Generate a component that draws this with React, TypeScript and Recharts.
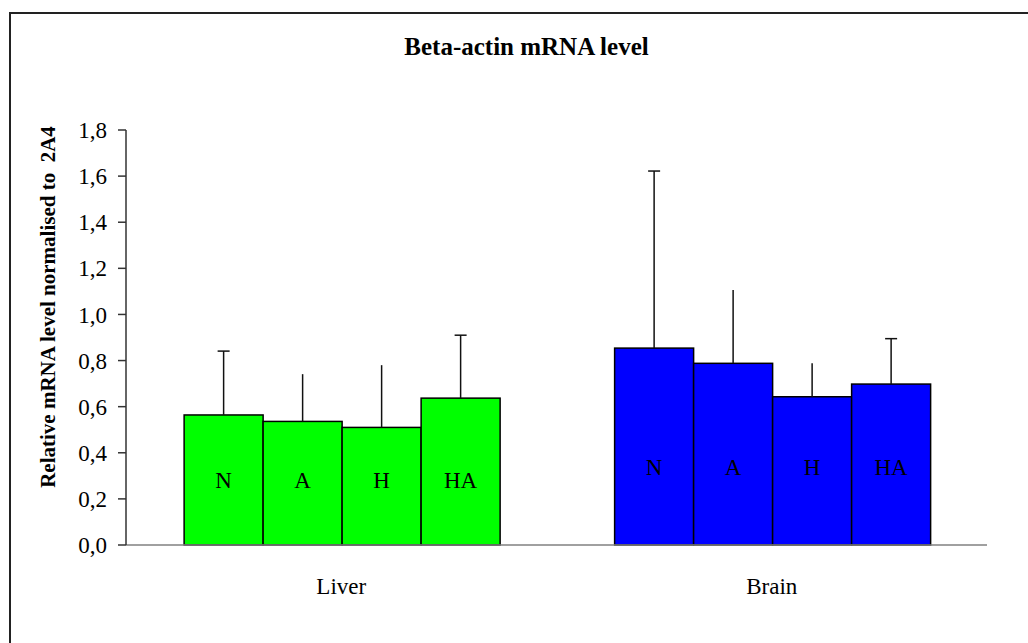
import React from "react";
import { BarChart, Bar, XAxis, YAxis } from "recharts";

const categories = ["Liver", "Brain"];
const groupColors = ["#00ff00", "#0000ff"];

const seriesKeys = ["N", "A", "H", "HA"];
const nValues = [0.564, 0.854];
const aValues = [0.536, 0.788];
const hValues = [0.51, 0.643];
const haValues = [0.637, 0.698];

const nErrors = [0.277, 0.768];
const aErrors = [0.205, 0.318];
const hErrors = [0.27, 0.145];
const haErrors = [0.273, 0.197];

// which series have a cap on the error whisker
const capped = [true, false, false, true];

const yTicks = [0, 0.2, 0.4, 0.6, 0.8, 1.0, 1.2, 1.4, 1.6, 1.8];

const data = categories.map((cat, i) => ({
  cat,
  N: nValues[i],
  A: aValues[i],
  H: hValues[i],
  HA: haValues[i],
  N_err: nErrors[i],
  A_err: aErrors[i],
  H_err: hErrors[i],
  HA_err: haErrors[i],
}));

const serif = "'Liberation Serif', 'Times New Roman', serif";

function makeShape(key: string, withCap: boolean) {
  return (props: any) => {
    const { x, y, width, height, payload, index } = props;
    const value = payload[key];
    const err = payload[key + "_err"];
    const pxPerUnit = value ? height / value : 0;
    const errTop = y - err * pxPerUnit;
    const cx = x + width / 2;
    const labelBase = y + height - (index === 0 ? 57 : 70);
    return (
      <g>
        <rect
          x={x}
          y={y}
          width={width}
          height={height}
          fill={groupColors[index]}
          stroke="#000"
          strokeWidth={1.5}
        />
        <line x1={cx} y1={y} x2={cx} y2={errTop} stroke="#111" strokeWidth={1.5} />
        {withCap && (
          <line x1={cx - 6} y1={errTop} x2={cx + 6} y2={errTop} stroke="#111" strokeWidth={1.5} />
        )}
        <text
          x={cx}
          y={labelBase}
          textAnchor="middle"
          fontFamily={serif}
          fontSize={23}
          fill="#000"
        >
          {key}
        </text>
      </g>
    );
  };
}

export default function App() {
  return (
    <div
      style={{
        position: "absolute",
        left: 0,
        top: 0,
        width: 1028,
        height: 643,
        background: "#fff",
        overflow: "hidden",
      }}
    >
      <div
        style={{
          position: "absolute",
          left: 9,
          top: 12,
          width: 1200,
          height: 800,
          borderLeft: "2px solid #222",
          borderTop: "2px solid #222",
        }}
      />
      <div
        style={{
          position: "absolute",
          left: 0,
          width: 1053,
          top: 33,
          textAlign: "center",
          fontFamily: serif,
          fontWeight: "bold",
          fontSize: 25,
          color: "#000",
        }}
      >
        Beta-actin mRNA level
      </div>
      <div style={{ position: "absolute", left: 0, top: 0 }}>
        <BarChart
          width={1028}
          height={643}
          data={data}
          margin={{ top: 130, right: 41, left: 66, bottom: 48 }}
          barCategoryGap="13.5%"
          barGap={0}
        >
          <XAxis
            xAxisId="edge"
            type="number"
            domain={[0, 2]}
            ticks={[0, 1, 2]}
            tick={false}
            axisLine={false}
            tickSize={8}
            tickLine={{ stroke: "#444", strokeWidth: 1.5 }}
            height={0}
          />
          <XAxis
            dataKey="cat"
            height={50}
            tickLine={false}
            axisLine={{ stroke: "#808080", strokeWidth: 1.5 }}
            tickMargin={27}
            tick={{ fontFamily: serif, fontSize: 23, fill: "#000" }}
          />
          <YAxis
            width={60}
            domain={[0, 1.8]}
            ticks={yTicks}
            interval={0}
            tickSize={8}
            tickMargin={11}
            axisLine={{ stroke: "#333", strokeWidth: 1.5 }}
            tickLine={{ stroke: "#333", strokeWidth: 1.5 }}
            tickFormatter={(v: number) => v.toFixed(1).replace(".", ",")}
            tick={{ fontFamily: serif, fontSize: 23, fill: "#000" }}
            label={{
              content: () => (
                <text
                  transform="translate(55,307) rotate(-90)"
                  textAnchor="middle"
                  fontFamily={serif}
                  fontWeight="bold"
                  fontSize={21}
                  fill="#000"
                >
                  Relative mRNA level normalised to{"\u00a0\u00a0"}2A4
                </text>
              ),
            }}
          />
          {seriesKeys.map((k, i) => (
            <Bar
              key={k}
              dataKey={k}
              isAnimationActive={false}
              shape={makeShape(k, capped[i])}
            />
          ))}
        </BarChart>
      </div>
    </div>
  );
}
